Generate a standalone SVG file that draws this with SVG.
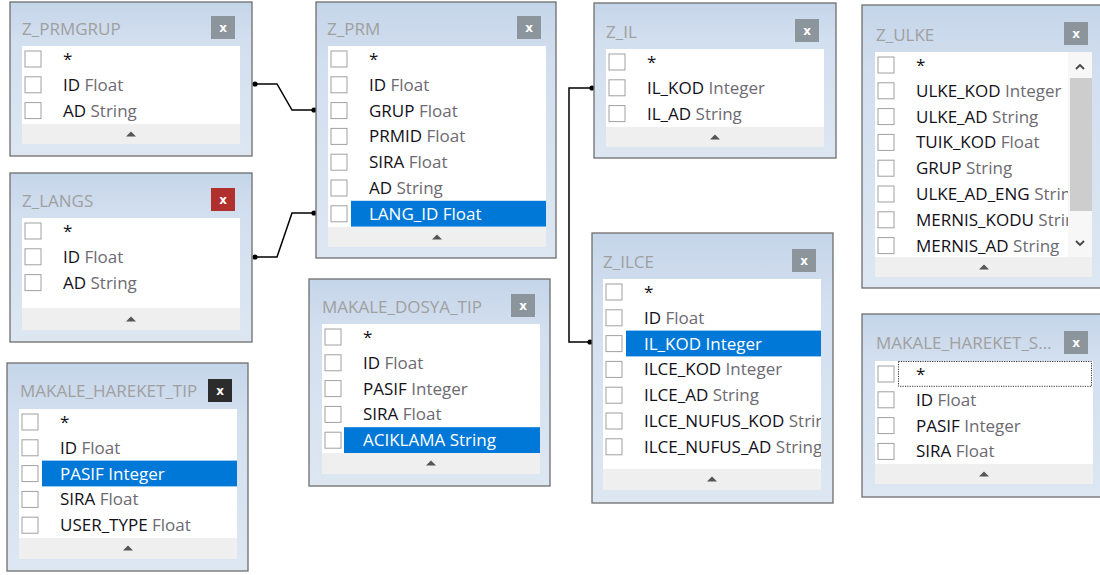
<svg xmlns="http://www.w3.org/2000/svg" width="1100" height="575" viewBox="0 0 1100 575">
<defs>
  <linearGradient id="fg" x1="0" y1="0" x2="0" y2="1">
    <stop offset="0" stop-color="#c5d5e9"/>
    <stop offset="0.25" stop-color="#d2dfef"/>
    <stop offset="1" stop-color="#dde7f2"/>
  </linearGradient>
  <path id="tri" d="M-5,2.5 L5,2.5 L0,-2.5Z" fill="#555"/>
  <clipPath id="clipUlke"><rect x="875" y="52" width="193" height="205"/></clipPath>
  <clipPath id="clipIlce"><rect x="603" y="279" width="218" height="190"/></clipPath>
  <style>
    .frame{fill:url(#fg);stroke:#6e6e6e;stroke-width:1.3}
    .list{fill:#ffffff}
    .foot{fill:#efefef}
    .cb{fill:#ffffff;stroke:#a0a0a0;stroke-width:1}
    .title{font-family:"Open Sans","Noto Sans",sans-serif;font-size:17px;fill:#a0a0a0}
    .row{font-family:"Open Sans","Noto Sans",sans-serif;font-size:17px}
    .n{fill:#121018}
    .t{fill:#6d6a72}
    .hl{fill:#0078d7}
    .sel .n,.sel .t{fill:#ffffff}
    .xb{fill:#8c949c}
    .xb.red{fill:#b1302d}
    .xb.dark{fill:#2c2c2c}
    .xt{font-family:"DejaVu Sans",sans-serif;font-size:12px;font-weight:bold;fill:#ffffff;text-anchor:middle}
    .wire{fill:none;stroke:#000000;stroke-width:1.5}
    .dot{fill:#000000}
    .focus{fill:none;stroke:#333333;stroke-width:1;stroke-dasharray:1.2 1.2}
  </style>
</defs>

<!-- relationship lines -->
<g id="connectors">
  <path class="wire" d="M255,84 H277 L292,110 H314"/>
  <circle class="dot" cx="255" cy="84" r="2.6"/>
  <circle class="dot" cx="314" cy="110" r="2.6"/>
  <path class="wire" d="M255,257 H277 L292,213 H314"/>
  <circle class="dot" cx="255" cy="257" r="2.6"/>
  <circle class="dot" cx="314" cy="213" r="2.6"/>
  <path class="wire" d="M592,88 H569 V342 H590"/>
  <circle class="dot" cx="592" cy="88" r="2.6"/>
  <circle class="dot" cx="590" cy="342" r="2.6"/>
</g>

<!-- Z_PRMGRUP -->
<g id="z_prmgrup">
  <rect class="frame" x="10" y="2" width="242" height="154"/>
  <text class="title" x="22" y="35">Z_PRMGRUP</text>
  <rect class="xb" x="211" y="16" width="24" height="23"/>
  <text class="xt" x="223" y="31.5">x</text>
  <rect class="list" x="22" y="46" width="218" height="78"/>
  <rect class="foot" x="22" y="124" width="218" height="20"/>
  <use href="#tri" x="131" y="134"/>
  <g class="row" transform="translate(22,46)">
    <g><rect class="cb" x="3" y="5" width="16" height="16"/><text x="41" y="19"><tspan class="n">*</tspan></text></g>
    <g transform="translate(0,25.8)"><rect class="cb" x="3" y="5" width="16" height="16"/><text x="41" y="19"><tspan class="n">ID</tspan><tspan class="t"> Float</tspan></text></g>
    <g transform="translate(0,51.6)"><rect class="cb" x="3" y="5" width="16" height="16"/><text x="41" y="19"><tspan class="n">AD</tspan><tspan class="t"> String</tspan></text></g>
  </g>
</g>

<!-- Z_PRM -->
<g id="z_prm">
  <rect class="frame" x="316" y="2" width="240" height="256"/>
  <text class="title" x="327" y="35">Z_PRM</text>
  <rect class="xb" x="517" y="16" width="24" height="23"/>
  <text class="xt" x="529" y="31.5">x</text>
  <rect class="list" x="328" y="46" width="218" height="181"/>
  <rect class="foot" x="328" y="227" width="218" height="20"/>
  <use href="#tri" x="437" y="237"/>
  <g class="row" transform="translate(328,46)">
    <g><rect class="cb" x="3" y="5" width="16" height="16"/><text x="41" y="19"><tspan class="n">*</tspan></text></g>
    <g transform="translate(0,25.8)"><rect class="cb" x="3" y="5" width="16" height="16"/><text x="41" y="19"><tspan class="n">ID</tspan><tspan class="t"> Float</tspan></text></g>
    <g transform="translate(0,51.6)"><rect class="cb" x="3" y="5" width="16" height="16"/><text x="41" y="19"><tspan class="n">GRUP</tspan><tspan class="t"> Float</tspan></text></g>
    <g transform="translate(0,77.4)"><rect class="cb" x="3" y="5" width="16" height="16"/><text x="41" y="19"><tspan class="n">PRMID</tspan><tspan class="t"> Float</tspan></text></g>
    <g transform="translate(0,103.2)"><rect class="cb" x="3" y="5" width="16" height="16"/><text x="41" y="19"><tspan class="n">SIRA</tspan><tspan class="t"> Float</tspan></text></g>
    <g transform="translate(0,129)"><rect class="cb" x="3" y="5" width="16" height="16"/><text x="41" y="19"><tspan class="n">AD</tspan><tspan class="t"> String</tspan></text></g>
    <g class="sel" transform="translate(0,154.8)"><rect class="cb" x="3" y="5" width="16" height="16"/><rect class="hl" x="23" y="0" width="195" height="25.8"/><text x="41" y="19"><tspan class="n">LANG_ID</tspan><tspan class="t"> Float</tspan></text></g>
  </g>
</g>

<!-- Z_IL -->
<g id="z_il">
  <rect class="frame" x="594" y="3" width="242" height="155"/>
  <text class="title" x="606" y="38">Z_IL</text>
  <rect class="xb" x="795" y="19" width="24" height="23"/>
  <text class="xt" x="807" y="34.5">x</text>
  <rect class="list" x="606" y="49" width="218" height="78"/>
  <rect class="foot" x="606" y="127" width="218" height="20"/>
  <use href="#tri" x="715" y="137"/>
  <g class="row" transform="translate(606,49)">
    <g><rect class="cb" x="3" y="5" width="16" height="16"/><text x="41" y="19"><tspan class="n">*</tspan></text></g>
    <g transform="translate(0,25.8)"><rect class="cb" x="3" y="5" width="16" height="16"/><text x="41" y="19"><tspan class="n">IL_KOD</tspan><tspan class="t"> Integer</tspan></text></g>
    <g transform="translate(0,51.6)"><rect class="cb" x="3" y="5" width="16" height="16"/><text x="41" y="19"><tspan class="n">IL_AD</tspan><tspan class="t"> String</tspan></text></g>
  </g>
</g>

<!-- Z_ULKE -->
<g id="z_ulke">
  <rect class="frame" x="862" y="5" width="244" height="283"/>
  <text class="title" x="876" y="41">Z_ULKE</text>
  <rect class="xb" x="1064" y="22" width="24" height="23"/>
  <text class="xt" x="1076" y="37.5">x</text>
  <rect class="list" x="875" y="52" width="217" height="205"/>
  <rect class="foot" x="875" y="257" width="217" height="20"/>
  <use href="#tri" x="984" y="267"/>
  <!-- scrollbar -->
  <rect x="1068" y="52" width="24" height="205" fill="#f7f7f7"/>
  <rect x="1070" y="78" width="22" height="133" fill="#cdcdcd"/>
  <path d="M1076,69 L1080,65 L1084,69" fill="none" stroke="#444" stroke-width="1.8"/>
  <path d="M1076,241 L1080,245 L1084,241" fill="none" stroke="#444" stroke-width="1.8"/>
  <g class="row" transform="translate(875,52)">
    <g><rect class="cb" x="3" y="5" width="16" height="16"/></g>
    <g transform="translate(0,25.8)"><rect class="cb" x="3" y="5" width="16" height="16"/></g>
    <g transform="translate(0,51.6)"><rect class="cb" x="3" y="5" width="16" height="16"/></g>
    <g transform="translate(0,77.4)"><rect class="cb" x="3" y="5" width="16" height="16"/></g>
    <g transform="translate(0,103.2)"><rect class="cb" x="3" y="5" width="16" height="16"/></g>
    <g transform="translate(0,129)"><rect class="cb" x="3" y="5" width="16" height="16"/></g>
    <g transform="translate(0,154.8)"><rect class="cb" x="3" y="5" width="16" height="16"/></g>
    <g transform="translate(0,180.6)"><rect class="cb" x="3" y="5" width="16" height="16"/></g>
  </g>
  <g class="row" clip-path="url(#clipUlke)">
    <g transform="translate(875,52)">
      <text x="41" y="19"><tspan class="n">*</tspan></text>
      <text x="41" y="44.8"><tspan class="n">ULKE_KOD</tspan><tspan class="t"> Integer</tspan></text>
      <text x="41" y="70.6"><tspan class="n">ULKE_AD</tspan><tspan class="t"> String</tspan></text>
      <text x="41" y="96.4"><tspan class="n">TUIK_KOD</tspan><tspan class="t"> Float</tspan></text>
      <text x="41" y="122.2"><tspan class="n">GRUP</tspan><tspan class="t"> String</tspan></text>
      <text x="41" y="148"><tspan class="n">ULKE_AD_ENG</tspan><tspan class="t"> String</tspan></text>
      <text x="41" y="173.8"><tspan class="n">MERNIS_KODU</tspan><tspan class="t"> String</tspan></text>
      <text x="41" y="199.6"><tspan class="n">MERNIS_AD</tspan><tspan class="t"> String</tspan></text>
    </g>
  </g>
</g>

<!-- Z_LANGS -->
<g id="z_langs">
  <rect class="frame" x="10" y="173" width="242" height="169"/>
  <text class="title" x="22" y="207">Z_LANGS</text>
  <rect class="xb red" x="211" y="188" width="24" height="23"/>
  <text class="xt" x="223" y="203.5">x</text>
  <rect class="list" x="22" y="218" width="218" height="90"/>
  <rect class="foot" x="22" y="308" width="218" height="22"/>
  <use href="#tri" x="131" y="319"/>
  <g class="row" transform="translate(22,218)">
    <g><rect class="cb" x="3" y="5" width="16" height="16"/><text x="41" y="19"><tspan class="n">*</tspan></text></g>
    <g transform="translate(0,25.8)"><rect class="cb" x="3" y="5" width="16" height="16"/><text x="41" y="19"><tspan class="n">ID</tspan><tspan class="t"> Float</tspan></text></g>
    <g transform="translate(0,51.6)"><rect class="cb" x="3" y="5" width="16" height="16"/><text x="41" y="19"><tspan class="n">AD</tspan><tspan class="t"> String</tspan></text></g>
  </g>
</g>

<!-- MAKALE_DOSYA_TIP -->
<g id="makale_dosya_tip">
  <rect class="frame" x="309" y="279" width="241" height="207"/>
  <text class="title" x="322" y="313">MAKALE_DOSYA_TIP</text>
  <rect class="xb" x="511" y="294" width="24" height="23"/>
  <text class="xt" x="523" y="309.5">x</text>
  <rect class="list" x="322" y="324" width="218" height="129"/>
  <rect class="foot" x="322" y="453" width="218" height="21"/>
  <use href="#tri" x="431" y="463"/>
  <g class="row" transform="translate(322,324)">
    <g><rect class="cb" x="3" y="5" width="16" height="16"/><text x="41" y="19"><tspan class="n">*</tspan></text></g>
    <g transform="translate(0,25.8)"><rect class="cb" x="3" y="5" width="16" height="16"/><text x="41" y="19"><tspan class="n">ID</tspan><tspan class="t"> Float</tspan></text></g>
    <g transform="translate(0,51.6)"><rect class="cb" x="3" y="5" width="16" height="16"/><text x="41" y="19"><tspan class="n">PASIF</tspan><tspan class="t"> Integer</tspan></text></g>
    <g transform="translate(0,77.4)"><rect class="cb" x="3" y="5" width="16" height="16"/><text x="41" y="19"><tspan class="n">SIRA</tspan><tspan class="t"> Float</tspan></text></g>
    <g class="sel" transform="translate(0,103.2)"><rect class="cb" x="3" y="5" width="16" height="16"/><rect class="hl" x="22" y="0" width="196" height="25.8"/><text x="41" y="19"><tspan class="n">ACIKLAMA</tspan><tspan class="t"> String</tspan></text></g>
  </g>
</g>

<!-- Z_ILCE -->
<g id="z_ilce">
  <rect class="frame" x="592" y="233" width="241" height="270"/>
  <text class="title" x="603" y="268">Z_ILCE</text>
  <rect class="xb" x="792" y="249" width="24" height="23"/>
  <text class="xt" x="804" y="264.5">x</text>
  <rect class="list" x="603" y="279" width="218" height="190"/>
  <rect class="foot" x="603" y="469" width="218" height="21"/>
  <use href="#tri" x="712" y="479"/>
  <g class="row" clip-path="url(#clipIlce)">
    <g transform="translate(603,279)">
      <g><rect class="cb" x="3" y="5" width="16" height="16"/><text x="41" y="19"><tspan class="n">*</tspan></text></g>
      <g transform="translate(0,25.8)"><rect class="cb" x="3" y="5" width="16" height="16"/><text x="41" y="19"><tspan class="n">ID</tspan><tspan class="t"> Float</tspan></text></g>
      <g class="sel" transform="translate(0,51.6)"><rect class="cb" x="3" y="5" width="16" height="16"/><rect class="hl" x="23" y="0" width="195" height="25.8"/><text x="41" y="19"><tspan class="n">IL_KOD</tspan><tspan class="t"> Integer</tspan></text></g>
      <g transform="translate(0,77.4)"><rect class="cb" x="3" y="5" width="16" height="16"/><text x="41" y="19"><tspan class="n">ILCE_KOD</tspan><tspan class="t"> Integer</tspan></text></g>
      <g transform="translate(0,103.2)"><rect class="cb" x="3" y="5" width="16" height="16"/><text x="41" y="19"><tspan class="n">ILCE_AD</tspan><tspan class="t"> String</tspan></text></g>
      <g transform="translate(0,129)"><rect class="cb" x="3" y="5" width="16" height="16"/><text x="41" y="19"><tspan class="n">ILCE_NUFUS_KOD</tspan><tspan class="t"> String</tspan></text></g>
      <g transform="translate(0,154.8)"><rect class="cb" x="3" y="5" width="16" height="16"/><text x="41" y="19"><tspan class="n">ILCE_NUFUS_AD</tspan><tspan class="t"> String</tspan></text></g>
    </g>
  </g>
</g>

<!-- MAKALE_HAREKET_S... -->
<g id="makale_hareket_s">
  <rect class="frame" x="862" y="314" width="244" height="183"/>
  <text class="title" x="876" y="349">MAKALE_HAREKET_S...</text>
  <rect class="xb" x="1064" y="331" width="24" height="23"/>
  <text class="xt" x="1076" y="346.5">x</text>
  <rect class="list" x="875" y="361" width="218" height="103"/>
  <rect class="foot" x="875" y="464" width="218" height="20"/>
  <use href="#tri" x="984" y="474"/>
  <g class="row" transform="translate(875,361)">
    <g><rect class="cb" x="3" y="5" width="16" height="16"/><rect class="focus" x="23.5" y="0.5" width="193" height="24.8"/><text x="41" y="19"><tspan class="n">*</tspan></text></g>
    <g transform="translate(0,25.8)"><rect class="cb" x="3" y="5" width="16" height="16"/><text x="41" y="19"><tspan class="n">ID</tspan><tspan class="t"> Float</tspan></text></g>
    <g transform="translate(0,51.6)"><rect class="cb" x="3" y="5" width="16" height="16"/><text x="41" y="19"><tspan class="n">PASIF</tspan><tspan class="t"> Integer</tspan></text></g>
    <g transform="translate(0,77.4)"><rect class="cb" x="3" y="5" width="16" height="16"/><text x="41" y="19"><tspan class="n">SIRA</tspan><tspan class="t"> Float</tspan></text></g>
  </g>
</g>

<!-- MAKALE_HAREKET_TIP -->
<g id="makale_hareket_tip">
  <rect class="frame" x="7" y="363" width="241" height="208"/>
  <text class="title" x="20" y="397">MAKALE_HAREKET_TIP</text>
  <rect class="xb dark" x="208" y="379" width="24" height="23"/>
  <text class="xt" x="220" y="394.5">x</text>
  <rect class="list" x="19" y="409" width="218" height="129"/>
  <rect class="foot" x="19" y="538" width="218" height="21"/>
  <use href="#tri" x="128" y="548"/>
  <g class="row" transform="translate(19,409)">
    <g><rect class="cb" x="3" y="5" width="16" height="16"/><text x="41" y="19"><tspan class="n">*</tspan></text></g>
    <g transform="translate(0,25.8)"><rect class="cb" x="3" y="5" width="16" height="16"/><text x="41" y="19"><tspan class="n">ID</tspan><tspan class="t"> Float</tspan></text></g>
    <g class="sel" transform="translate(0,51.6)"><rect class="cb" x="3" y="5" width="16" height="16"/><rect class="hl" x="23" y="0" width="195" height="25.8"/><text x="41" y="19"><tspan class="n">PASIF</tspan><tspan class="t"> Integer</tspan></text></g>
    <g transform="translate(0,77.4)"><rect class="cb" x="3" y="5" width="16" height="16"/><text x="41" y="19"><tspan class="n">SIRA</tspan><tspan class="t"> Float</tspan></text></g>
    <g transform="translate(0,103.2)"><rect class="cb" x="3" y="5" width="16" height="16"/><text x="41" y="19"><tspan class="n">USER_TYPE</tspan><tspan class="t"> Float</tspan></text></g>
  </g>
</g>
</svg>
